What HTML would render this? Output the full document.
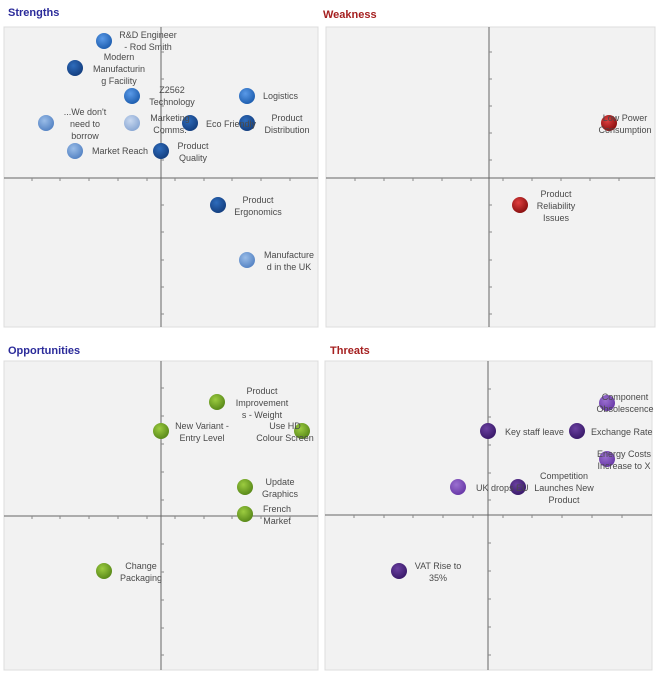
<!DOCTYPE html>
<html><head><meta charset="utf-8"><style>
body{margin:0;background:#fff;width:668px;height:674px;overflow:hidden}
svg{display:block;font-family:"Liberation Sans",sans-serif}
.t{font-size:11px;font-weight:bold}
.l{font-size:9px;fill:#4a4a4a;text-anchor:middle}
.ls{font-size:9px;fill:#4a4a4a}
</style></head><body>
<svg width="668" height="674" viewBox="0 0 668 674">
<defs>
<radialGradient id="bm" cx="40%" cy="35%" r="65%"><stop offset="0" stop-color="#5a9ae8"/><stop offset="1" stop-color="#1f5fb0"/></radialGradient>
<radialGradient id="bd" cx="40%" cy="35%" r="65%"><stop offset="0" stop-color="#2e6cbc"/><stop offset="1" stop-color="#143f80"/></radialGradient>
<radialGradient id="bl" cx="40%" cy="35%" r="65%"><stop offset="0" stop-color="#9abde8"/><stop offset="1" stop-color="#5684c4"/></radialGradient>
<radialGradient id="bx" cx="40%" cy="35%" r="65%"><stop offset="0" stop-color="#c8d8f0"/><stop offset="1" stop-color="#8aa8d4"/></radialGradient>
<radialGradient id="r" cx="40%" cy="35%" r="65%"><stop offset="0" stop-color="#e04040"/><stop offset="1" stop-color="#8a1010"/></radialGradient>
<radialGradient id="g" cx="40%" cy="35%" r="65%"><stop offset="0" stop-color="#9ccc40"/><stop offset="1" stop-color="#5a8a1a"/></radialGradient>
<radialGradient id="p" cx="40%" cy="35%" r="65%"><stop offset="0" stop-color="#6a40a0"/><stop offset="1" stop-color="#3a1a6a"/></radialGradient>
<radialGradient id="pl" cx="40%" cy="35%" r="65%"><stop offset="0" stop-color="#9a70d0"/><stop offset="1" stop-color="#6a3aa8"/></radialGradient>
</defs>
<text class="t" x="8" y="16" fill="#2b2b9a">Strengths</text>
<text class="t" x="323" y="18" fill="#a52020">Weakness</text>
<text class="t" x="8" y="354" fill="#2b2b9a">Opportunities</text>
<text class="t" x="330" y="354" fill="#a52020">Threats</text>

<g stroke="#ddd" fill="#f2f2f2">
<rect x="4" y="27" width="314" height="300"/>
<rect x="326" y="27" width="329" height="300"/>
<rect x="4" y="361" width="314" height="309"/>
<rect x="325" y="361" width="327" height="309"/>
</g>
<g stroke="#666" stroke-width="1" fill="none">
<path d="M161 27V327M4 178H318"/>
<path d="M489 27V327M326 178H655"/>
<path d="M161 361V670M4 516H318"/>
<path d="M488 361V670M325 515H652"/>
</g>
<g stroke="#888" stroke-width="1">
<path d="M32 178v3M60 178v3M89 178v3M118 178v3M147 178v3M175 178v3M204 178v3M232 178v3M261 178v3M290 178v3"/>
<path d="M161 52h3M161 79h3M161 106h3M161 133h3M161 160h3M161 205h3M161 232h3M161 260h3M161 287h3M161 314h3"/>
<path d="M355 178v3M384 178v3M413 178v3M442 178v3M471 178v3M503 178v3M532 178v3M561 178v3M590 178v3M619 178v3"/>
<path d="M489 52h3M489 79h3M489 106h3M489 133h3M489 160h3M489 205h3M489 232h3M489 260h3M489 287h3M489 314h3"/>
<path d="M32 516v3M60 516v3M89 516v3M118 516v3M147 516v3M175 516v3M204 516v3M232 516v3M261 516v3M290 516v3"/>
<path d="M161 388h3M161 416h3M161 444h3M161 472h3M161 500h3M161 544h3M161 572h3M161 600h3M161 628h3M161 655h3"/>
<path d="M354 515v3M384 515v3M413 515v3M443 515v3M473 515v3M503 515v3M532 515v3M562 515v3M592 515v3M622 515v3"/>
<path d="M488 389h3M488 417h3M488 445h3M488 473h3M488 500h3M488 543h3M488 571h3M488 599h3M488 627h3M488 655h3"/>
</g>

<g>
<circle cx="104" cy="41" r="8" fill="url(#bm)"/>
<circle cx="75" cy="68" r="8" fill="url(#bd)"/>
<circle cx="132" cy="96" r="8" fill="url(#bm)"/>
<circle cx="247" cy="96" r="8" fill="url(#bm)"/>
<circle cx="46" cy="123" r="8" fill="url(#bl)"/>
<circle cx="132" cy="123" r="8" fill="url(#bx)"/>
<circle cx="190" cy="123" r="8" fill="url(#bd)"/>
<circle cx="247" cy="123" r="8" fill="url(#bd)"/>
<circle cx="75" cy="151" r="8" fill="url(#bl)"/>
<circle cx="161" cy="151" r="8" fill="url(#bd)"/>
<circle cx="218" cy="205" r="8" fill="url(#bd)"/>
<circle cx="247" cy="260" r="8" fill="url(#bl)"/>
</g>
<text class="l" x="148" y="38">R&amp;D Engineer</text><text class="l" x="148" y="50">- Rod Smith</text>
<text class="l" x="119" y="60">Modern</text><text class="l" x="119" y="72">Manufacturin</text><text class="l" x="119" y="84">g Facility</text>
<text class="l" x="172" y="93">Z2562</text><text class="l" x="172" y="105">Technology</text>
<text class="ls" x="263" y="99">Logistics</text>
<text class="l" x="85" y="115">...We don't</text><text class="l" x="85" y="127">need to</text><text class="l" x="85" y="139">borrow</text>
<text class="l" x="170" y="121">Marketing</text><text class="l" x="170" y="133">Comms.</text>
<text class="ls" x="206" y="127">Eco Friendly</text>
<text class="l" x="287" y="121">Product</text><text class="l" x="287" y="133">Distribution</text>
<text class="ls" x="92" y="154">Market Reach</text>
<text class="l" x="193" y="149">Product</text><text class="l" x="193" y="161">Quality</text>
<text class="l" x="258" y="203">Product</text><text class="l" x="258" y="215">Ergonomics</text>
<text class="l" x="289" y="258">Manufacture</text><text class="l" x="289" y="270">d in the UK</text>

<circle cx="609" cy="123" r="8" fill="url(#r)"/>
<circle cx="520" cy="205" r="8" fill="url(#r)"/>
<text class="l" x="625" y="121">Low Power</text><text class="l" x="625" y="133">Consumption</text>
<text class="l" x="556" y="197">Product</text><text class="l" x="556" y="209">Reliability</text><text class="l" x="556" y="221">Issues</text>

<circle cx="217" cy="402" r="8" fill="url(#g)"/>
<circle cx="161" cy="431" r="8" fill="url(#g)"/>
<circle cx="302" cy="431" r="8" fill="url(#g)"/>
<circle cx="245" cy="487" r="8" fill="url(#g)"/>
<circle cx="245" cy="514" r="8" fill="url(#g)"/>
<circle cx="104" cy="571" r="8" fill="url(#g)"/>
<text class="l" x="262" y="394">Product</text><text class="l" x="262" y="406">Improvement</text><text class="l" x="262" y="418">s - Weight</text>
<text class="l" x="202" y="429">New Variant -</text><text class="l" x="202" y="441">Entry Level</text>
<text class="l" x="285" y="429">Use HD</text><text class="l" x="285" y="441">Colour Screen</text>
<text class="l" x="280" y="485">Update</text><text class="l" x="280" y="497">Graphics</text>
<text class="l" x="277" y="512">French</text><text class="l" x="277" y="524">Market</text>
<text class="l" x="141" y="569">Change</text><text class="l" x="141" y="581">Packaging</text>

<circle cx="607" cy="403" r="8" fill="url(#pl)"/>
<circle cx="488" cy="431" r="8" fill="url(#p)"/>
<circle cx="577" cy="431" r="8" fill="url(#p)"/>
<circle cx="607" cy="459" r="8" fill="url(#pl)"/>
<circle cx="458" cy="487" r="8" fill="url(#pl)"/>
<circle cx="518" cy="487" r="8" fill="url(#p)"/>
<circle cx="399" cy="571" r="8" fill="url(#p)"/>
<text class="l" x="625" y="400">Component</text><text class="l" x="625" y="412">Obsolescence</text>
<text class="ls" x="505" y="435">Key staff leave</text>
<text class="ls" x="591" y="435">Exchange Rate</text>
<text class="l" x="624" y="457">Energy Costs</text><text class="l" x="624" y="469">Increase to X</text>
<text class="ls" x="476" y="491">UK drops EU</text>
<text class="l" x="564" y="479">Competition</text><text class="l" x="564" y="491">Launches New</text><text class="l" x="564" y="503">Product</text>
<text class="l" x="438" y="569">VAT Rise to</text><text class="l" x="438" y="581">35%</text>
</svg>
</body></html>
